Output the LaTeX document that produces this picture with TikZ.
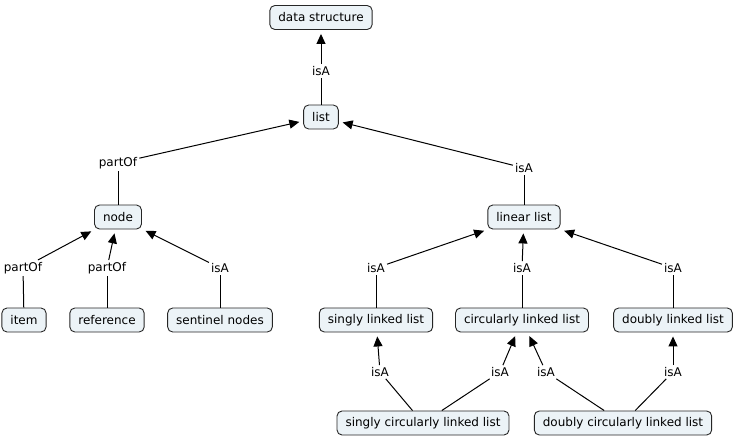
\documentclass[tikz,border=0pt]{standalone}
\usepackage{fontspec}
\setmainfont{DejaVu Sans}
\usetikzlibrary{arrows.meta}
\definecolor{conceptfill}{RGB}{236,243,247}
\tikzstyle{concept} = [rectangle, rounded corners=5pt, minimum height=24pt, inner xsep=8.5pt, text centered, draw=black!85, fill=conceptfill, line width=0.9pt]
\tikzstyle{link} = [inner sep=2pt]
\tikzstyle{arrow} = [line width=1pt, -{Triangle[length=10pt,width=9pt]}, shorten >=4pt]
\tikzstyle{joint} = [line width=1pt]

\begin{document}
\begin{tikzpicture}[x=1pt, y=-1pt, font=\fontsize{12}{14}\selectfont]
    \useasboundingbox (0,0) rectangle (734,439);

    % Concepts
    \node (ds) [concept] at (321,17.5) {data structure};
    \node (list) [concept] at (321,117) {list};
    \node (node) [concept] at (118,217) {node};
    \node (linear) [concept] at (524,217) {linear list};
    \node (item) [concept] at (24,320) {item};
    \node (ref) [concept] at (107,320) {reference};
    \node (sentinel) [concept] at (220,320) {sentinel nodes};
    \node (sll) [concept] at (376,320) {singly linked list};
    \node (cll) [concept] at (522,320) {circularly linked list};
    \node (dll) [concept] at (673,320) {doubly linked list};
    \node (scll) [concept] at (423,423) {singly circularly linked list};
    \node (dcll) [concept] at (623,423) {doubly circularly linked list};

    % Linking phrases
    \node (isDs) [link] at (321,71) {isA};
    \node (partList) [link] at (118,163) {partOf};
    \node (isList) [link] at (524,168) {isA};
    \node (partItem) [link] at (23,268) {partOf};
    \node (partRef) [link] at (107,268) {partOf};
    \node (isSentinel) [link] at (220,268) {isA};
    \node (isSll) [link] at (376,268) {isA};
    \node (isCll) [link] at (522,268) {isA};
    \node (isDll) [link] at (673,268) {isA};
    \node (isScllS) [link] at (380,372) {isA};
    \node (isScllC) [link] at (500,372) {isA};
    \node (isDcllC) [link] at (546,372) {isA};
    \node (isDcllD) [link] at (673,372) {isA};

    % Lines to the phrases
    \draw [joint] (list) -- (isDs);
    \draw [joint] (node) -- (partList);
    \draw [joint] (linear) -- (isList);
    \draw [joint] (item) -- (partItem);
    \draw [joint] (ref) -- (partRef);
    \draw [joint] (sentinel) -- (isSentinel);
    \draw [joint] (sll) -- (isSll);
    \draw [joint] (cll) -- (isCll);
    \draw [joint] (dll) -- (isDll);
    \draw [joint] (scll) -- (isScllS);
    \draw [joint] (scll) -- (isScllC);
    \draw [joint] (dcll) -- (isDcllC);
    \draw [joint] (dcll) -- (isDcllD);

    % Arrows to the concepts
    \draw [arrow] (isDs) -- (ds);
    \draw [arrow] (partList) -- (list);
    \draw [arrow] (isList) -- (list);
    \draw [arrow] (partItem) -- (node);
    \draw [arrow] (partRef) -- (node);
    \draw [arrow] (isSentinel) -- (node);
    \draw [arrow] (isSll) -- (linear);
    \draw [arrow] (isCll) -- (linear);
    \draw [arrow] (isDll) -- (linear);
    \draw [arrow] (isScllS) -- (sll);
    \draw [arrow] (isScllC) -- (cll);
    \draw [arrow] (isDcllC) -- (cll);
    \draw [arrow] (isDcllD) -- (dll);

\end{tikzpicture}
\end{document}
